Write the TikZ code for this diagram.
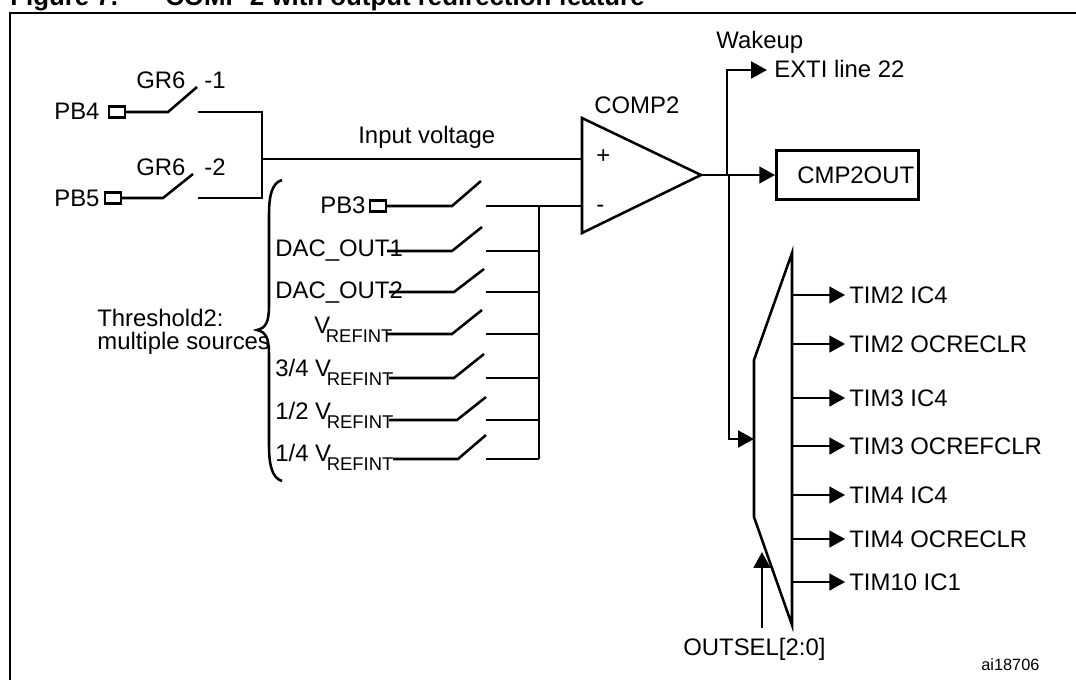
\documentclass[tikz,border=0pt]{standalone}
\usepackage{fontspec}
\setmainfont{Liberation Sans}
\usetikzlibrary{arrows.meta}
\newcommand{\Vrefint}{V\kern-2.5pt\raisebox{-5.5pt}{\fontsize{10.5}{12}\selectfont REFINT}}
\tikzset{
    wire/.style={line width=1.45pt},
    sig/.style={wire, -{Triangle[length=9pt, width=9.5pt]}},
    timsig/.style={sig, shorten >=2.2pt},
    pad/.style={draw, wire, inner sep=0pt, minimum width=9pt, minimum height=6.5pt},
    lbl/.style={inner sep=0pt, anchor=base west, font=\fontsize{13.6}{13}\selectfont}
}
\begin{document}
\begin{tikzpicture}[x=0.02cm, y=-0.02cm]
                \useasboundingbox (0,0) rectangle (1076,680);
                \node[lbl, font=\fontsize{14.7}{15}\selectfont\bfseries] (title) at (10,5) {Figure 7.};
                \node[lbl, font=\fontsize{14.7}{15}\selectfont\bfseries] (caption) at (165,5) {COMP 2 with output redirection feature};
                \draw[wire] (10,680) -- (10,13) -- (1076,13);

                % input switches
                \node[lbl] (pb4) at (54,119) {PB4};
                \node[lbl] (pb5) at (54,206) {PB5};
                \node[pad] (pb4pad) at (117,112) {};
                \node[pad] (pb5pad) at (113,198) {};
                \node[lbl] (gr1) at (136,88) {GR6};
                \node[lbl] (gr2) at (136,175) {GR6};
                \node[lbl] (gr1n) at (204,88) {-1};
                \node[lbl] (gr2n) at (204,175) {-2};
                \coordinate (in1a) at (168,112);
                \coordinate (in1b) at (197,87);
                \coordinate (in1c) at (198,112);
                \coordinate (in2a) at (163,198);
                \coordinate (in2b) at (193,174);
                \coordinate (in2c) at (198,198);
                \coordinate (join) at (262,159);
                \draw[wire] (pb4pad.east) -- (in1a) -- (in1b);
                \draw[wire] (pb5pad.east) -- (in2a) -- (in2b);
                \draw[wire] (in1c) -| (join);
                \draw[wire] (in2c) -| (join);

                % comparator
                \node[lbl] (comp) at (594,113) {COMP2};
                \coordinate (tria) at (582,118);
                \coordinate (trib) at (582,233);
                \coordinate (tric) at (701,175);
                \draw[wire, line join=miter] (tria) -- (tric) -- (trib) -- cycle;
                \node[lbl] (plus) at (596,163) {+};
                \node[lbl] (minus) at (596,212) {-};
                \node[lbl] (input) at (358,143) {Input voltage};
                \coordinate (inplus) at (582,159);
                \coordinate (inminus) at (582,206);
                \draw[wire] (join) -- (inplus);

                % threshold sources
                \node[lbl] (pb3) at (320,213) {PB3};
                \node[pad] (pb3pad) at (378,206) {};
                \node[lbl] (dac1) at (275,256) {DAC\_OUT1};
                \node[lbl] (dac2) at (275,298) {DAC\_OUT2};
                \node[lbl] (vr1) at (314,333) {\Vrefint};
                \node[lbl] (vr2) at (275,376) {3/4 \Vrefint};
                \node[lbl] (vr3) at (275,419) {1/2 \Vrefint};
                \node[lbl] (vr4) at (275,461) {1/4 \Vrefint};
                \node[lbl, anchor=west, align=left] (thr) at (97,332) {Threshold2:\\multiple sources};
                \draw[wire] (282,180) .. controls (272,183) and (269,195) .. (269,215) -- (269,305)
                    .. controls (269,322) and (266,328) .. (257,330)
                    .. controls (266,332) and (269,338) .. (269,355) -- (269,445)
                    .. controls (269,465) and (272,478) .. (282,481);

                \coordinate (s1a) at (452,206);
                \coordinate (s1b) at (481,181);
                \coordinate (s1c) at (486,206);
                \coordinate (s2i) at (387,251);
                \coordinate (s2a) at (452,251);
                \coordinate (s2b) at (482,227);
                \coordinate (s2c) at (486,251);
                \coordinate (s3i) at (389,292);
                \coordinate (s3a) at (454,292);
                \coordinate (s3b) at (484,269);
                \coordinate (s3c) at (486,292);
                \coordinate (s4i) at (387,334);
                \coordinate (s4a) at (452,334);
                \coordinate (s4b) at (482,310);
                \coordinate (s4c) at (486,334);
                \coordinate (s5i) at (389,378);
                \coordinate (s5a) at (454,378);
                \coordinate (s5b) at (484,354);
                \coordinate (s5c) at (486,378);
                \coordinate (s6i) at (389,420);
                \coordinate (s6a) at (457,420);
                \coordinate (s6b) at (486,397);
                \coordinate (s6c) at (486,420);
                \coordinate (s7i) at (393,459);
                \coordinate (s7a) at (458,459);
                \coordinate (s7b) at (486,435);
                \coordinate (s7c) at (486,459);
                \coordinate (bus) at (539,459);

                \draw[wire] (pb3pad.east) -- (s1a) -- (s1b);
                \draw[wire] (s2i) -- (s2a) -- (s2b);
                \draw[wire] (s3i) -- (s3a) -- (s3b);
                \draw[wire] (s4i) -- (s4a) -- (s4b);
                \draw[wire] (s5i) -- (s5a) -- (s5b);
                \draw[wire] (s6i) -- (s6a) -- (s6b);
                \draw[wire] (s7i) -- (s7a) -- (s7b);

                \draw[wire] (s1c) -- (inminus);
                \draw[wire] (s2c) -| (bus);
                \draw[wire] (s3c) -| (bus);
                \draw[wire] (s4c) -| (bus);
                \draw[wire] (s5c) -| (bus);
                \draw[wire] (s6c) -| (bus);
                \draw[wire] (s7c) -- (bus);
                \draw[wire] (bus) -- (bus |- s1c);

                % outputs
                \node[lbl] (wakeup) at (716,48) {Wakeup};
                \node[lbl] (exti) at (774,77) {EXTI line 22};
                \coordinate (extiin) at (767,70);
                \coordinate (tapa) at (727,175);
                \coordinate (tapb) at (729,175);
                \draw[sig] (tapa) |- (extiin);
                \node[draw, wire, minimum width=81pt, minimum height=28pt, inner sep=0pt] (cmpbox) at (847.5,175) {};
                \node[lbl, anchor=west] (cmpout) at (797,175) {CMP2OUT};
                \draw[sig] (tric) -- (cmpbox.west);

                % output selection
                \coordinate (muxa) at (792,253);
                \coordinate (muxb) at (754,360);
                \coordinate (muxc) at (754,517);
                \coordinate (muxd) at (792,625);
                \draw[wire, line join=miter] (muxa) -- (muxb) -- (muxc) -- (muxd) -- cycle;
                \coordinate (muxin) at (754,439);
                \draw[sig] (tapb) |- (muxin);
                \coordinate (selfrom) at (762,628);
                \coordinate (selto) at (762,552);
                \draw[sig] (selfrom) -- (selto);
                \node[lbl] (outsel) at (683,655) {OUTSEL[2:0]};
                \node[lbl, font=\fontsize{9.3}{10}\selectfont] (code) at (981,670) {ai18706};

                \node[lbl, anchor=west] (tim1) at (849,295) {TIM2 IC4};
                \node[lbl, anchor=west] (tim2) at (849,344) {TIM2 OCRECLR};
                \node[lbl, anchor=west] (tim3) at (849,398) {TIM3 IC4};
                \node[lbl, anchor=west] (tim4) at (849,446) {TIM3 OCREFCLR};
                \node[lbl, anchor=west] (tim5) at (849,495) {TIM4 IC4};
                \node[lbl, anchor=west] (tim6) at (849,539) {TIM4 OCRECLR};
                \node[lbl, anchor=west] (tim7) at (849,582) {TIM10 IC1};
                \draw[timsig] (muxa |- tim1.west) -- (tim1.west);
                \draw[timsig] (muxa |- tim2.west) -- (tim2.west);
                \draw[timsig] (muxa |- tim3.west) -- (tim3.west);
                \draw[timsig] (muxa |- tim4.west) -- (tim4.west);
                \draw[timsig] (muxa |- tim5.west) -- (tim5.west);
                \draw[timsig] (muxa |- tim6.west) -- (tim6.west);
                \draw[timsig] (muxa |- tim7.west) -- (tim7.west);
            \end{tikzpicture}
\end{document}
